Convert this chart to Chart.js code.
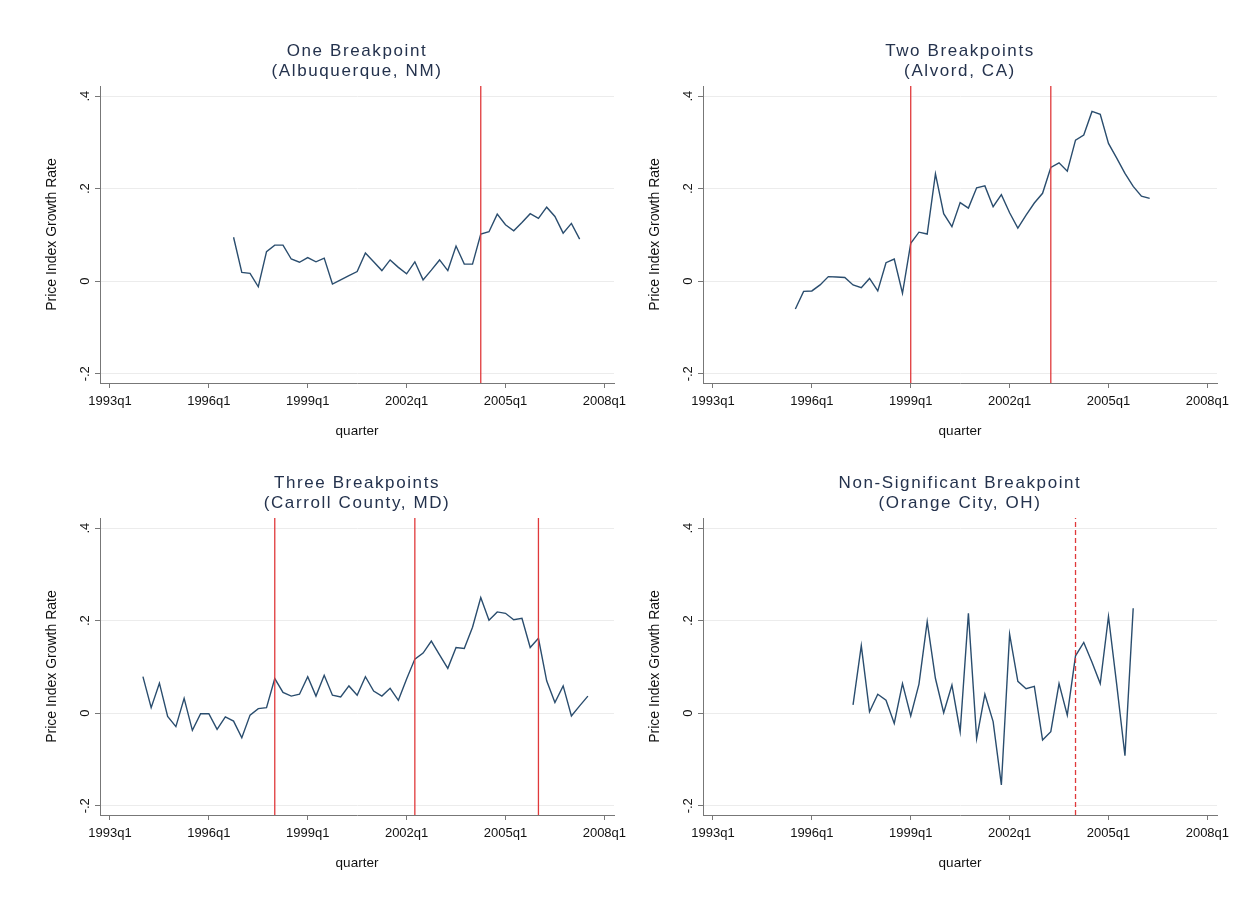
<!DOCTYPE html>
<html>
<head>
<meta charset="utf-8">
<title>Price index growth rate breakpoints</title>
<script src="https://cdn.jsdelivr.net/npm/chart.js@4.4.0/dist/chart.umd.min.js"></script>
<style>
  html, body { margin: 0; padding: 0; background: #ffffff; }
  #page { position: relative; width: 1251px; height: 905px; overflow: hidden; background: #ffffff; }
  .panel { position: absolute; width: 640px; height: 450px; }
  .panel canvas { display: block; }
</style>
</head>
<body>
<div id="page">
  <div class="panel" style="left:0px;top:0px"><canvas id="albuquerque" width="640" height="450"></canvas></div>
  <div class="panel" style="left:603px;top:0px"><canvas id="alvord" width="640" height="450"></canvas></div>
  <div class="panel" style="left:0px;top:432px"><canvas id="carroll" width="640" height="450"></canvas></div>
  <div class="panel" style="left:603px;top:432px"><canvas id="orange" width="640" height="450"></canvas></div>
</div>
<script>
// Axis ticks shared by all four panels
const xTickLabels = ['1993q1', '1996q1', '1999q1', '2002q1', '2005q1', '2008q1'];
const yTickValues = [-0.2, 0, 0.2, 0.4];
const yTickLabels = ['-.2', '0', '.2', '.4'];

// One breakpoint: Albuquerque, NM (quarterly growth, first quarter 1996q4)
const albuquerqueStart = '1996q4';
const albuquerqueGrowth = [
  0.095, 0.019, 0.017, -0.012, 0.064, 0.078, 0.078, 0.048, 0.041, 0.051,
  0.042, 0.050, -0.006, 0.003, 0.012, 0.021, 0.061, 0.042, 0.023, 0.046,
  0.030, 0.016, 0.042, 0.003, 0.024, 0.046, 0.023, 0.076, 0.037, 0.037,
  0.102, 0.107, 0.145, 0.122, 0.109, 0.127, 0.146, 0.136, 0.160, 0.140,
  0.104, 0.125, 0.091
];
const albuquerqueBreaks = ['2004q2'];

// Two breakpoints: Alvord, CA (first quarter 1995q3)
const alvordStart = '1995q3';
const alvordGrowth = [
  -0.060, -0.022, -0.021, -0.008, 0.010, 0.009, 0.008, -0.008, -0.014, 0.006,
  -0.021, 0.040, 0.048, -0.026, 0.082, 0.106, 0.102, 0.232, 0.146, 0.118,
  0.170, 0.158, 0.202, 0.206, 0.161, 0.187, 0.148, 0.115, 0.143, 0.169,
  0.190, 0.246, 0.256, 0.238, 0.305, 0.316, 0.367, 0.361, 0.298, 0.266,
  0.233, 0.205, 0.184, 0.179
];
const alvordBreaks = ['1999q1', '2003q2'];

// Three breakpoints: Carroll County, MD (first quarter 1994q1)
const carrollStart = '1994q1';
const carrollGrowth = [
  0.079, 0.012, 0.065, -0.007, -0.029, 0.032, -0.037, -0.001, -0.001, -0.035,
  -0.008, -0.017, -0.053, -0.004, 0.010, 0.012, 0.075, 0.045, 0.037, 0.041,
  0.079, 0.037, 0.082, 0.039, 0.035, 0.059, 0.039, 0.079, 0.048, 0.037,
  0.054, 0.028, 0.074, 0.117, 0.130, 0.156, 0.126, 0.097, 0.142, 0.140,
  0.186, 0.250, 0.201, 0.219, 0.216, 0.202, 0.205, 0.142, 0.162, 0.070,
  0.023, 0.059, -0.006, 0.016, 0.037
];
const carrollBreaks = ['1998q1', '2002q2', '2006q1'];

// Non-significant breakpoint: Orange City, OH (first quarter 1997q2)
const orangeStart = '1997q2';
const orangeGrowth = [
  0.018, 0.146, 0.003, 0.041, 0.028, -0.022, 0.064, -0.006, 0.063, 0.198,
  0.075, 0.001, 0.061, -0.040, 0.216, -0.055, 0.041, -0.018, -0.155, 0.171,
  0.069, 0.053, 0.058, -0.058, -0.040, 0.064, -0.004, 0.124, 0.153, 0.110,
  0.064, 0.209, 0.062, -0.092, 0.227
];
const orangeBreaks = ['2004q1'];

// Plot window (quarters counted from 1993q1, growth as a fraction)
const X_MIN = -1.21, X_MAX = 61.17;
const Y_MIN = -0.22, Y_MAX = 0.422;

const FONT = "'Liberation Sans', Arial, Helvetica, sans-serif";
const SERIES_COLOR = '#2a4d6e';
const BREAK_COLOR = '#e0393b';
const AXIS_COLOR = '#777777';
const GRID_COLOR = '#ececec';

function quarterIndex(label) {
  const [year, q] = label.split('q').map(Number);
  return (year - 1993) * 4 + (q - 1);
}

// Titles are drawn with a little extra tracking
const titleTracking = {
  id: 'titleTracking',
  beforeDraw(chart) {
    const tb = chart.titleBlock;
    if (tb && !tb._tracked) {
      const draw = tb.draw.bind(tb);
      tb.draw = function (area) {
        const ctx = chart.ctx;
        ctx.save();
        ctx.letterSpacing = '1.6px';
        draw(area);
        ctx.restore();
      };
      tb._tracked = true;
    }
  }
};

function makePanel(canvasId, titleLines, start, values, breaks, dashed) {
  const first = quarterIndex(start);
  const datasets = breaks.map(b => ({
    data: [{ x: quarterIndex(b), y: Y_MIN }, { x: quarterIndex(b), y: Y_MAX }],
    borderColor: BREAK_COLOR,
    borderWidth: 1.3,
    borderDash: dashed ? [5, 3] : [],
    pointRadius: 0,
    order: 0
  }));
  datasets.push({
    data: values.map((v, i) => ({ x: first + i, y: v })),
    borderColor: SERIES_COLOR,
    borderWidth: 1.4,
    pointRadius: 0,
    tension: 0,
    order: 1
  });

  return new Chart(document.getElementById(canvasId), {
    type: 'line',
    data: { datasets },
    plugins: [titleTracking],
    options: {
      responsive: false,
      animation: false,
      events: [],
      devicePixelRatio: 1,
      layout: { padding: { left: 0, top: 0, right: 26, bottom: 11 } },
      plugins: {
        legend: { display: false },
        tooltip: { enabled: false },
        title: {
          display: true,
          text: titleLines,
          fullSize: false,
          color: '#24324d',
          font: { family: FONT, size: 17, weight: 'normal', lineHeight: '20px' },
          padding: { top: 41, bottom: 5 }
        }
      },
      scales: {
        x: {
          type: 'linear',
          min: X_MIN,
          max: X_MAX,
          afterBuildTicks: ax => { ax.ticks = xTickLabels.map(l => ({ value: quarterIndex(l) })); },
          afterFit: ax => { ax.height = 56; },
          ticks: {
            callback: (v, i) => xTickLabels[i],
            autoSkip: false,
            maxRotation: 0,
            minRotation: 0,
            padding: 6,
            color: '#111111',
            font: { family: FONT, size: 13 }
          },
          grid: { drawOnChartArea: false, drawTicks: true, tickLength: 5, tickColor: AXIS_COLOR },
          border: { display: true, color: AXIS_COLOR, width: 1 },
          title: {
            display: true,
            text: 'quarter',
            color: '#111111',
            font: { family: FONT, size: 13.5, lineHeight: '16px' },
            padding: { top: 0, bottom: 0 }
          }
        },
        y: {
          type: 'linear',
          min: Y_MIN,
          max: Y_MAX,
          afterBuildTicks: ax => { ax.ticks = yTickValues.map(v => ({ value: v })); },
          afterFit: ax => { ax.width = 100; },
          ticks: {
            callback: (v, i) => yTickLabels[i],
            autoSkip: false,
            minRotation: 90,
            maxRotation: 90,
            crossAlign: 'center',
            padding: 1.5,
            color: '#111111',
            font: { family: FONT, size: 13 }
          },
          grid: { color: GRID_COLOR, lineWidth: 1, drawTicks: true, tickLength: 5, tickColor: AXIS_COLOR },
          border: { display: true, color: AXIS_COLOR, width: 1 },
          title: {
            display: true,
            text: 'Price Index Growth Rate',
            color: '#111111',
            font: { family: FONT, size: 14, lineHeight: '16px' },
            padding: { top: 44, bottom: 0 }
          }
        }
      }
    }
  });
}

makePanel('albuquerque', ['One Breakpoint', '(Albuquerque, NM)'], albuquerqueStart, albuquerqueGrowth, albuquerqueBreaks, false);
makePanel('alvord', ['Two Breakpoints', '(Alvord, CA)'], alvordStart, alvordGrowth, alvordBreaks, false);
makePanel('carroll', ['Three Breakpoints', '(Carroll County, MD)'], carrollStart, carrollGrowth, carrollBreaks, false);
makePanel('orange', ['Non-Significant Breakpoint', '(Orange City, OH)'], orangeStart, orangeGrowth, orangeBreaks, true);
</script>
</body>
</html>
